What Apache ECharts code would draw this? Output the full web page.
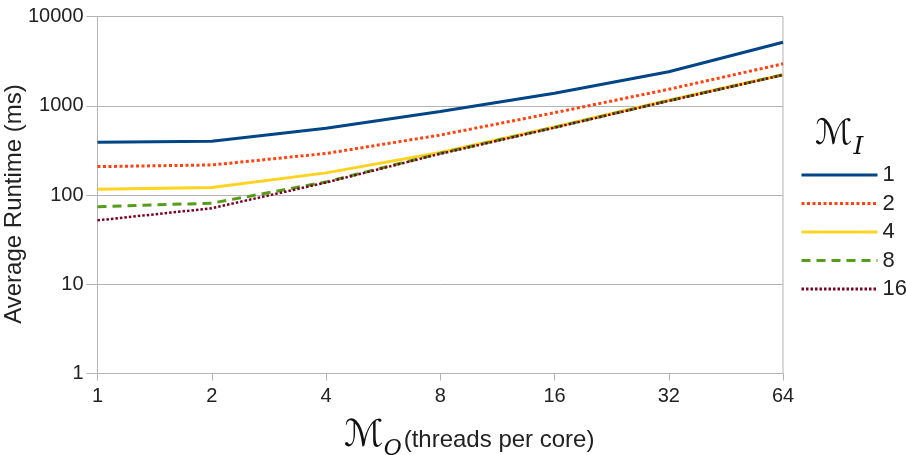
<!DOCTYPE html>
<html>
<head>
<meta charset="utf-8">
<script src="https://cdn.jsdelivr.net/npm/echarts@6/dist/echarts.min.js"></script>
<style>
  html, body { margin: 0; padding: 0; background: #fff; }
  #chart { width: 906px; height: 455px; }
</style>
</head>
<body>
<div id="chart"></div>
<script>
// threads per core (x categories)
var threads = ['1', '2', '4', '8', '16', '32', '64'];
// average runtime (ms) per M_I setting
var mi1 = [390, 400, 560, 860, 1380, 2400, 5150];
var mi2 = [208, 217, 292, 470, 835, 1530, 2950];
var mi4 = [116, 121, 177, 300, 578, 1150, 2230];
var mi8 = [74, 81, 140, 293, 572, 1140, 2220];
var mi16 = [52, 71, 138, 290, 568, 1135, 2210];
var seriesNames = ['1', '2', '4', '8', '16'];

var chart = echarts.init(document.getElementById('chart'));

function mkLine(name, data, color, width, type) {
  return {
    name: name,
    type: 'line',
    data: data,
    symbol: 'none',
    smooth: false,
    lineStyle: { color: color, width: width, type: type, cap: 'butt' },
    itemStyle: { color: color }
  };
}

var font = 'Liberation Sans, Arial, sans-serif';

var option = {
  animation: false,
  backgroundColor: '#fff',
  textStyle: { fontFamily: font },
  title: {
    text: '{m|ℳ}{s|I}',
    left: 810,
    top: 112,
    textStyle: {
      fontWeight: 'normal',
      rich: {
        m: { fontFamily: 'DejaVu Sans', fontWeight: 'normal', fontSize: 35, color: '#111', verticalAlign: 'bottom' },
        s: { fontFamily: 'DejaVu Serif', fontWeight: 'normal', fontStyle: 'italic', fontSize: 25, color: '#111', verticalAlign: 'bottom', padding: [0, 0, -8, 1] }
      }
    }
  },
  legend: {
    data: seriesNames,
    orient: 'vertical',
    left: 795,
    top: 159,
    itemWidth: 76,
    itemHeight: 14,
    itemGap: 6.5,
    itemStyle: { opacity: 0, borderWidth: 0 },
    lineStyle: { width: 3 },
    textStyle: { fontSize: 22, lineHeight: 22, color: '#222', fontFamily: font }
  },
  grid: {
    left: 97.5,
    right: 123,
    top: 16.5,
    bottom: 81.5,
    outerBoundsMode: 'none',
    containLabel: false,
    show: true,
    borderColor: '#b3b3b3',
    borderWidth: 1
  },
  xAxis: {
    type: 'category',
    data: threads,
    boundaryGap: false,
    axisLine: { lineStyle: { color: '#b3b3b3', width: 1 } },
    axisTick: { show: true, length: 7, inside: false, lineStyle: { color: '#b3b3b3' } },
    axisLabel: { color: '#222', fontSize: 20, margin: 13, fontFamily: font },
    splitLine: { show: false },
    name: '{m|ℳ}{o|O}{t|(threads per core)}',
    nameLocation: 'middle',
    nameGap: 44,
    nameMoveOverlap: false,
    nameTextStyle: {
      padding: [0, 0, 0, 58],
      rich: {
        m: { fontFamily: 'DejaVu Sans', fontSize: 37, color: '#111', verticalAlign: 'bottom' },
        o: { fontFamily: 'DejaVu Serif', fontStyle: 'italic', fontSize: 22, color: '#111', verticalAlign: 'bottom', padding: [0, 0, -6, 0] },
        t: { fontFamily: font, fontSize: 24, color: '#222', verticalAlign: 'bottom', padding: [0, 0, 2, 2] }
      }
    }
  },
  yAxis: {
    type: 'log',
    logBase: 10,
    min: 1,
    max: 10000,
    axisLine: { show: true, lineStyle: { color: '#b3b3b3', width: 1 } },
    axisTick: { show: true, length: 11, inside: false, lineStyle: { color: '#b3b3b3' } },
    axisLabel: {
      color: '#222', fontSize: 20, margin: 14, fontFamily: font,
      formatter: function (v) { return String(Math.round(v)); }
    },
    splitLine: { show: true, lineStyle: { color: '#b3b3b3', width: 1 } },
    minorTick: { show: false },
    name: 'Average Runtime (ms)',
    nameLocation: 'middle',
    nameGap: 71,
    nameMoveOverlap: false,
    nameTextStyle: { fontSize: 24, color: '#222', fontFamily: font, padding: [0, 18, 0, 0] }
  },
  series: [
    mkLine('1', mi1, '#004586', 3, 'solid'),
    mkLine('2', mi2, '#ff420e', 3, [3, 2.5]),
    mkLine('4', mi4, '#ffd320', 3, 'solid'),
    mkLine('8', mi8, '#579d1c', 3, [9, 6]),
    mkLine('16', mi16, '#7e0021', 2.5, [2.5, 2])
  ]
};

chart.setOption(option);
</script>
</body>
</html>
